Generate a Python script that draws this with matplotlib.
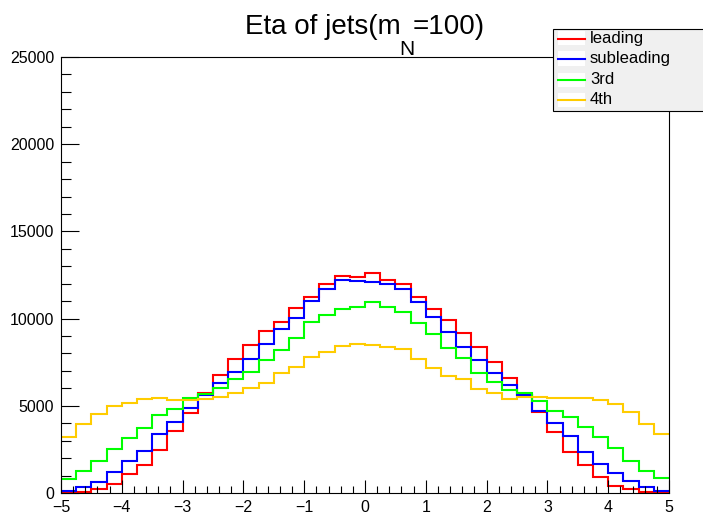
import numpy as np
import matplotlib
matplotlib.use("Agg")
import matplotlib.pyplot as plt
from matplotlib.patches import Rectangle
from matplotlib.lines import Line2D
from matplotlib.ticker import MultipleLocator

# 40 bins of eta from -5 to 5
edges = np.linspace(-5, 5, 41)

leading = [40, 75, 212, 499, 1072, 1606, 2466, 3555, 4607, 5715,
           6747, 7664, 8500, 9270, 9786, 10590, 11221, 11984, 12460, 12403,
           12594, 12213, 11984, 11221, 10533, 9920, 9157, 8391, 7492, 6576,
           5620, 4626, 3517, 2370, 1606, 899, 420, 212, 75, 20]
subleading = [134, 344, 631, 1185, 1835, 2408, 3402, 4090, 4855, 5620,
              6325, 6957, 7683, 8535, 9404, 10017, 11029, 11698, 12213, 12156,
              12080, 11984, 11679, 10934, 10112, 9213, 8391, 7626, 6862, 6193,
              5620, 4702, 3995, 3268, 2332, 1644, 1166, 707, 363, 134]
third = [803, 1280, 1835, 2504, 3154, 3746, 4473, 4836, 5428, 5676,
         6003, 6537, 6957, 7645, 8200, 8869, 9824, 10207, 10533, 10686,
         10934, 10686, 10398, 9767, 9117, 8296, 7721, 6862, 6384, 5906,
         5715, 5275, 4702, 4378, 3804, 3192, 2561, 1853, 1280, 841]
fourth = [3228, 3956, 4512, 5007, 5142, 5371, 5466, 5333, 5350, 5371,
          5523, 5715, 6003, 6325, 6862, 7243, 7816, 8066, 8429, 8544,
          8486, 8391, 8238, 7702, 7186, 6700, 6556, 5944, 5715, 5390,
          5523, 5523, 5466, 5466, 5428, 5333, 5084, 4664, 3956, 3383]

names = ["leading", "subleading", "3rd", "4th"]
colors = ["#ff0000", "#0000ff", "#00ff00", "#ffcc00"]

plt.rcParams["font.family"] = ["Liberation Sans", "DejaVu Sans"]

W, H = 703, 514
fig = plt.figure(figsize=(W / 100, H / 100), dpi=100)
ax = fig.add_axes([61 / W, 1 - 493 / H, 608 / W, 436 / H])

for vals, c in zip([leading, subleading, third, fourth], colors):
    ax.stairs(vals, edges, baseline=None, color=c, lw=1.5)

ax.set_xlim(-5, 5)
ax.set_ylim(0, 25000)
ax.xaxis.set_major_locator(MultipleLocator(1))
ax.xaxis.set_minor_locator(MultipleLocator(0.2))
ax.yaxis.set_major_locator(MultipleLocator(5000))
ax.yaxis.set_minor_locator(MultipleLocator(1000))
ax.tick_params(axis="both", which="both", direction="in", labelsize=11.5,
               top=False, right=False, width=0.8, color="black")
ax.tick_params(axis="x", which="major", length=9.5, pad=5)
ax.tick_params(axis="x", which="minor", length=5)
ax.tick_params(axis="y", which="major", length=13, pad=5)
ax.tick_params(axis="y", which="minor", length=7)
for s in ax.spines.values():
    s.set_linewidth(0.8)

# title in ROOT latex style: subscript nearly full size and dropped low
renderer = fig.canvas.get_renderer()
base_y = 1 - 34 / H
parts = [("Eta of jets(m", 20, 0, -1), ("N", 15, 21, -2), ("=100)", 20, 0, 0)]
texts = [fig.text(0, base_y - dy / H, s, fontsize=fs, va="baseline")
         for s, fs, dy, _ in parts]
widths = [t.get_window_extent(renderer).width for t in texts]
gaps = [g for *_, g in parts]
x = 365 - (sum(widths) + sum(gaps)) / 2
for t, w, g in zip(texts, widths, gaps):
    t.set_x(x / W)
    x += w + g

# legend box
x0, y0 = 553 / W, 1 - 111 / H
fig.patches.append(Rectangle((x0, y0), 0.3, 82 / H, transform=fig.transFigure,
                             facecolor="#f0f0f0", edgecolor="black", lw=0.8,
                             zorder=5))
rows = [38.5, 58.5, 80, 100]
for name, c, yr in zip(names, colors, rows):
    yf = 1 - yr / H
    fig.patches.append(Rectangle((558 / W, yf - 7 / H), 27 / W, 14 / H,
                                 transform=fig.transFigure, facecolor="white",
                                 edgecolor="none", zorder=6))
    fig.lines.append(Line2D([558 / W, 585 / W], [yf, yf], color=c, lw=1.5,
                            transform=fig.transFigure, zorder=7))
    fig.text(590 / W, yf, name, fontsize=12, va="center", ha="left", zorder=8)

fig.savefig("out.png", dpi=100, facecolor="white")
